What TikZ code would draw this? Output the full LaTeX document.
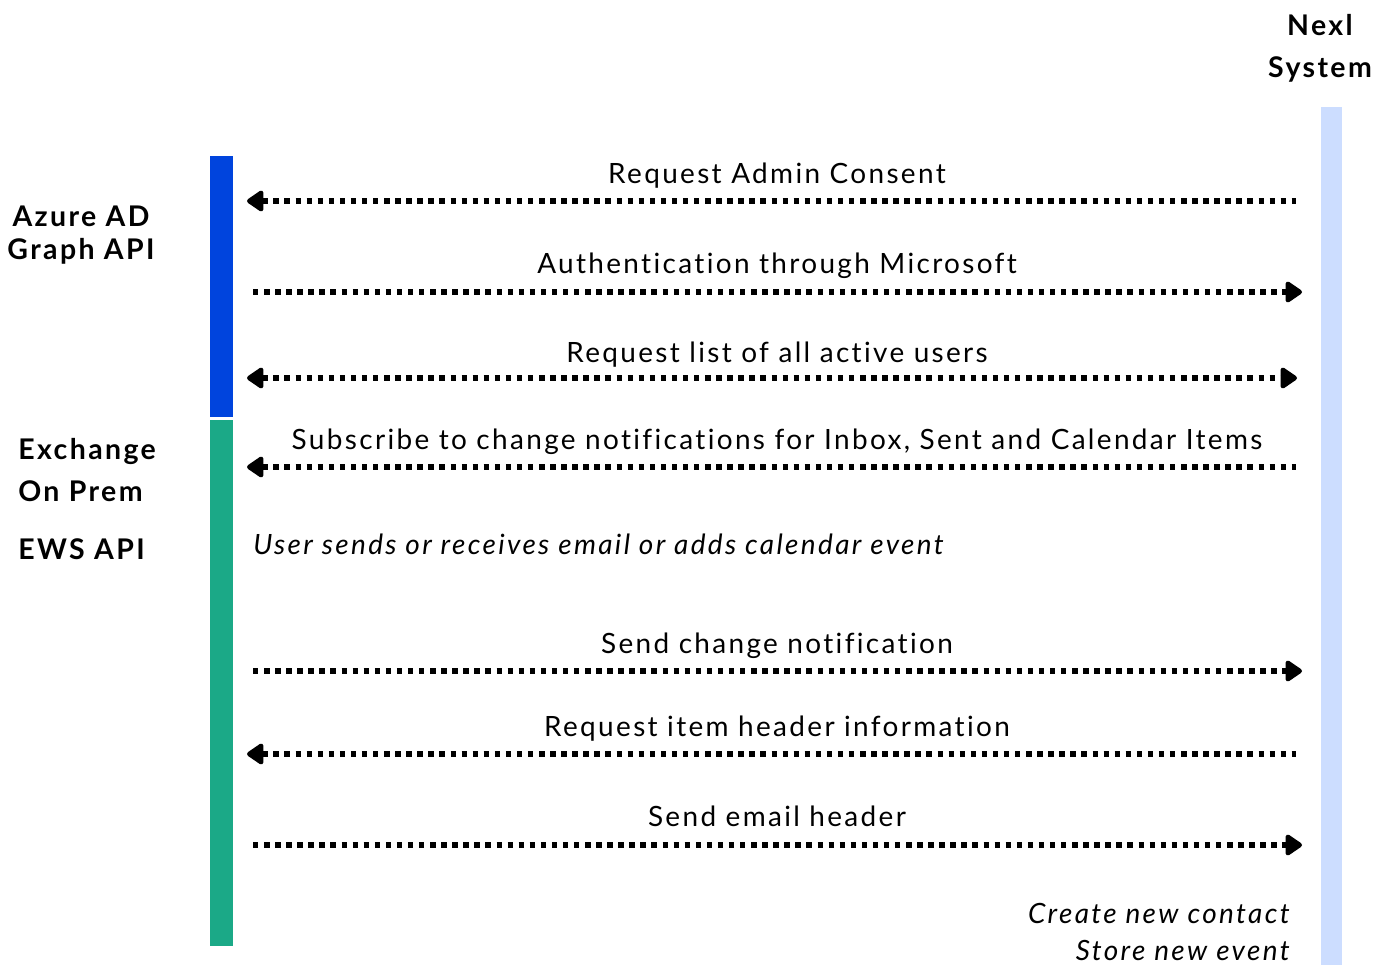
\documentclass[tikz,border=0pt]{standalone}
\usepackage{fontspec}
\setmainfont{Lato}[LetterSpace=8.4, Ligatures=NoCommon]
\usetikzlibrary{arrows.meta}
\definecolor{azureblue}{RGB}{0,68,221}
\definecolor{exgreen}{RGB}{27,169,135}
\definecolor{nexlblue}{RGB}{204,221,255}
\tikzset{msg/.style = {line width = 3.1pt, dash pattern = on 3.1pt off 3.2pt,
    arrows = {-}, >={Triangle[length = 10.5pt, width = 13.5pt, round]}},
  lbl/.style = {anchor = base, inner sep = 0, font = \fontsize{15.9}{19}\selectfont},
  note/.style = {lbl, font = \fontsize{15.9}{19}\selectfont\itshape},
  head/.style = {anchor = base, inner sep = 0, font = \fontsize{16.2}{19}\selectfont\bfseries}}

\begin{document}
\begin{tikzpicture}[x = 0.02cm, y = -0.02cm]
    \useasboundingbox (0, 0) rectangle (1383, 965);

    % lanes
    \fill [azureblue] (210, 156) rectangle (233, 417);
    \fill [exgreen] (210, 420) rectangle (233, 946);
    \fill [nexlblue] (1321, 107) rectangle (1342, 965);

    \node [head] (nexl) at (1320, 35) {Nexl};
    \node [head] (sys) at (1320, 77) {System};
    \node [head] (azure) at (81, 226) {Azure AD};
    \node [head] (graph) at (81, 259) {Graph API};
    \node [head, anchor = base west] (exch) at (18, 459) {Exchange};
    \node [head, anchor = base west] (prem) at (18, 501) {On Prem};
    \node [head, anchor = base west] (ews) at (18, 559) {EWS API};

    % end points of the messages
    \coordinate (l1) at (247, 201);  \coordinate (r1) at (1296, 201);
    \coordinate (l2) at (253, 292);  \coordinate (r2) at (1302, 292);
    \coordinate (l3) at (247, 378);  \coordinate (r3) at (1297, 378);
    \coordinate (l4) at (247, 467);  \coordinate (r4) at (1296, 467);
    \coordinate (l6) at (253, 671);  \coordinate (r6) at (1302, 671);
    \coordinate (l7) at (247, 754);  \coordinate (r7) at (1296, 754);
    \coordinate (l8) at (253, 845);  \coordinate (r8) at (1302, 845);

    \draw [msg, <-] (l1) -- (r1);
    \draw [msg, ->] (l2) -- (r2);
    \draw [msg, <->] (l3) -- (r3);
    \draw [msg, <-] (l4) -- (r4);
    \draw [msg, ->] (l6) -- (r6);
    \draw [msg, <-] (l7) -- (r7);
    \draw [msg, ->] (l8) -- (r8);

    \node [lbl] (t1) at (777, 183) {Request Admin Consent};
    \node [lbl] (t2) at (777, 273) {Authentication through Microsoft};
    \node [lbl] (t3) at (777, 362) {Request list of all active users};
    \node [lbl] (t4) at (777, 449) {Subscribe to change notifications for Inbox, Sent and Calendar Items};
    \node [note, anchor = base west] (t5) at (253, 554) {User sends or receives email or adds calendar event};
    \node [lbl] (t6) at (777, 653) {Send change notification};
    \node [lbl] (t7) at (777, 736) {Request item header information};
    \node [lbl] (t8) at (777, 826) {Send email header};
    \node [note, anchor = base east] (t9) at (1290, 923) {Create new contact};
    \node [note, anchor = base east] (t10) at (1290, 960) {Store new event};
\end{tikzpicture}
\end{document}
